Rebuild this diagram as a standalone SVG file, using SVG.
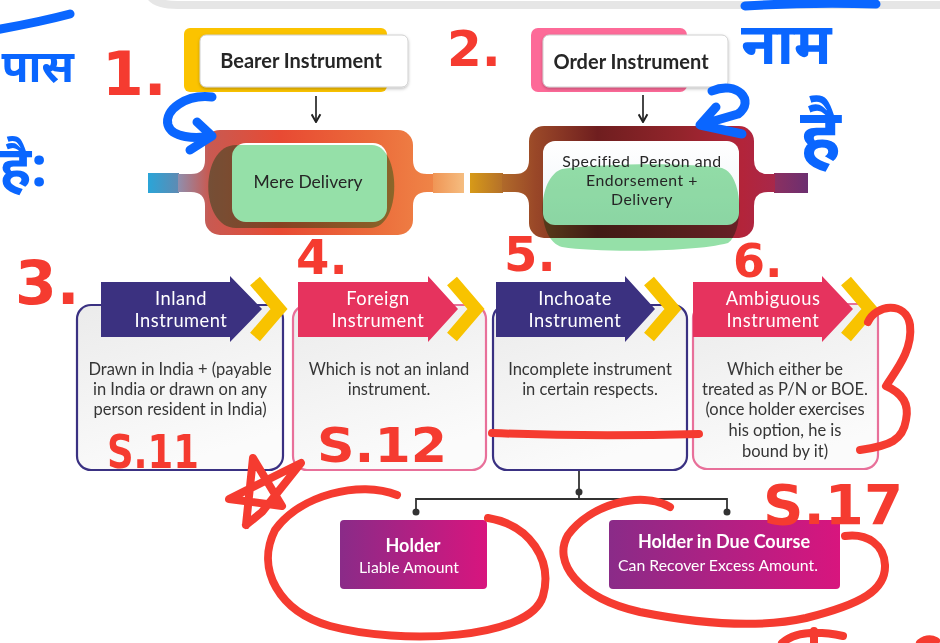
<svg xmlns="http://www.w3.org/2000/svg" width="940" height="643" viewBox="0 0 940 643">
<style>
.t{font-family:Lato,"Noto Sans","Liberation Sans",sans-serif;}
.hb{font-weight:700;font-size:20px;fill:#262626;text-anchor:middle;}
.pt{font-size:17.5px;fill:#262626;text-anchor:middle;}
.pt2{font-size:15.8px;letter-spacing:0.5px;fill:#262626;text-anchor:middle;}
.ht{font-size:18.3px;letter-spacing:0.5px;fill:#fff;text-anchor:middle;}
.bt{font-size:16.5px;fill:#363636;text-anchor:middle;}
.ob{font-weight:700;font-size:18px;fill:#fff;text-anchor:middle;}
.os{font-size:15.8px;fill:#fff;text-anchor:middle;}
.card{fill:url(#cardg);stroke-width:2.2;}
.navy{stroke:#3a3182;}
.pink{stroke:#e8709a;}
.hnavy{fill:#3b3180;}
.hpink{fill:#e6335e;}
.chev{fill:none;stroke:#f8c300;stroke-width:13;stroke-linejoin:miter;}
.hl{fill:#95e0a8;mix-blend-mode:multiply;}
.con{fill:none;stroke:#333;stroke-width:1.8;}
.red{fill:none;stroke:#f53b30;stroke-width:8;stroke-linecap:round;stroke-linejoin:round;}
.blue{fill:none;stroke:#0a66ff;stroke-width:9;stroke-linecap:round;stroke-linejoin:round;}
.rt{font-family:"DejaVu Sans","Liberation Sans",sans-serif;font-weight:700;fill:#f53b30;}
.bl{font-family:"Noto Sans","DejaVu Sans",sans-serif;font-weight:700;fill:#0a66ff;}
</style>
<defs>
<linearGradient id="cardg" x1="0" y1="0" x2="0.4" y2="1">
<stop offset="0" stop-color="#ebebeb"/><stop offset="1" stop-color="#fbfbfb"/>
</linearGradient>
<linearGradient id="p1" gradientUnits="userSpaceOnUse" x1="178" y1="0" x2="433" y2="0">
<stop offset="0" stop-color="#8f8fae"/><stop offset="0.12" stop-color="#c85a52"/><stop offset="0.4" stop-color="#e84a33"/><stop offset="0.75" stop-color="#eb6a3a"/><stop offset="1" stop-color="#ef8447"/>
</linearGradient>
<linearGradient id="p2" gradientUnits="userSpaceOnUse" x1="502" y1="0" x2="775" y2="0">
<stop offset="0" stop-color="#b06a2a"/><stop offset="0.12" stop-color="#9a4828"/><stop offset="0.35" stop-color="#6f1e1f"/><stop offset="0.65" stop-color="#92242b"/><stop offset="0.88" stop-color="#b3243a"/><stop offset="1" stop-color="#a8284a"/>
</linearGradient>
<linearGradient id="sb" x1="0" y1="0" x2="1" y2="0"><stop offset="0" stop-color="#2aa5d8"/><stop offset="1" stop-color="#5f8ab2"/></linearGradient>
<linearGradient id="so" x1="0" y1="0" x2="1" y2="0"><stop offset="0" stop-color="#f09555"/><stop offset="1" stop-color="#f5bd80"/></linearGradient>
<linearGradient id="sg" x1="0" y1="0" x2="1" y2="0"><stop offset="0" stop-color="#d79a18"/><stop offset="1" stop-color="#b4702a"/></linearGradient>
<linearGradient id="sp" x1="0" y1="0" x2="1" y2="0"><stop offset="0" stop-color="#8c3060"/><stop offset="1" stop-color="#6c2f70"/></linearGradient>
<linearGradient id="wb" x1="0" y1="0" x2="0" y2="1"><stop offset="0" stop-color="#ffffff"/><stop offset="1" stop-color="#eef3f8"/></linearGradient>
<linearGradient id="og" x1="0" y1="0" x2="1" y2="0"><stop offset="0" stop-color="#8a2b88"/><stop offset="1" stop-color="#d8157e"/></linearGradient>
<filter id="sh" x="-10%" y="-20%" width="120%" height="150%"><feDropShadow dx="0" dy="1.5" stdDeviation="1.5" flood-color="#000" flood-opacity="0.25"/></filter>
<marker id="ah" viewBox="0 0 10 10" refX="9" refY="5" markerWidth="11" markerHeight="11" markerUnits="userSpaceOnUse" orient="auto">
<path d="M2,1 L9,5 L2,9" fill="none" stroke="#222" stroke-width="1.8"/>
</marker>
</defs>
<rect width="940" height="643" fill="#fff"/>
<path d="M150,-4 Q156,5 178,5 H945" fill="none" stroke="#e6e6e6" stroke-width="8"/>

<g id="bearer">
<rect x="184" y="28" width="203" height="64" rx="6" fill="#fbc300"/>
<rect x="200" y="35" width="208" height="52" rx="6" fill="#fff" stroke="#d0d0d0" filter="url(#sh)"/>
<text class="t hb" x="301" y="68">Bearer Instrument</text>
</g>

<g id="order">
<rect x="531" y="28" width="156" height="64" rx="7" fill="#fd6a98"/>
<rect x="543" y="35" width="185" height="52" rx="6" fill="#fff" stroke="#d0d0d0" filter="url(#sh)"/>
<text class="t hb" x="631" y="69">Order Instrument</text>
</g>

<g id="connectors">
<path d="M316,96 V122" class="con" marker-end="url(#ah)"/>
<path d="M643,95 V122" class="con" marker-end="url(#ah)"/>
<path d="M579,470 V499 M416,512 V499 H727 V512" class="con"/>
<circle cx="579" cy="492" r="3.5" fill="#333"/>
<circle cx="416" cy="512" r="3.5" fill="#333"/>
<circle cx="727" cy="512" r="3.5" fill="#333"/>
</g>

<g id="pipe-bearer">
<rect x="148" y="173" width="31" height="20" fill="url(#sb)"/>
<rect x="433" y="173" width="31" height="20" fill="url(#so)"/>
<g fill="url(#p1)">
<rect x="178" y="174" width="255" height="18"/>
<path d="M191,174 Q205,174 205,160 V174 Z M191,192 Q205,192 205,206 V192 Z M427,174 Q413,174 413,160 V174 Z M427,192 Q413,192 413,206 V192 Z"/>
<rect x="205" y="130" width="208" height="105" rx="15"/>
</g>
<rect x="232" y="143" width="155" height="79" rx="14" fill="#fff"/>
<path class="hl" d="M236,145 H372 C401,145 403,228 370,228 H236 C199,228 199,145 236,145 Z"/>
<text class="t pt" x="308" y="188">Mere Delivery</text>
</g>

<g id="pipe-order">
<rect x="470" y="173" width="33" height="20" fill="url(#sg)"/>
<rect x="774" y="173" width="34" height="20" fill="url(#sp)"/>
<g fill="url(#p2)">
<rect x="502" y="174" width="273" height="18"/>
<path d="M515,174 Q529,174 529,160 V174 Z M515,192 Q529,192 529,206 V192 Z M768,174 Q754,174 754,160 V174 Z M768,192 Q754,192 754,206 V192 Z"/>
<rect x="529" y="126" width="225" height="112" rx="15"/>
</g>
<rect x="543" y="141" width="196" height="84" rx="12" fill="url(#wb)"/>
<path class="hl" d="M562,169 C610,163 690,163 722,168 C744,175 744,232 728,243 C695,252 600,253 562,247 C536,240 536,178 562,169 Z"/>
<text class="t pt2" x="642" y="167">Specified&#160; Person and</text>
<text class="t pt2" x="642" y="186">Endorsement +</text>
<text class="t pt2" x="642" y="205">Delivery</text>
</g>

<g id="card-inland">
<rect class="card navy" x="77" y="305" width="206" height="165" rx="14"/>
<path class="hnavy" d="M101,282 H230 V276 L262,309 L230,342 V337 H101 Z"/>
<polyline class="chev" points="255,281 279,309 255,337"/>
<text class="t ht" x="181" y="305">Inland</text>
<text class="t ht" x="181" y="327">Instrument</text>
<text class="t bt" x="180" y="375">Drawn in India + (payable</text>
<text class="t bt" x="180" y="395">in India or drawn on any</text>
<text class="t bt" x="180" y="415">person resident in India)</text>
</g>

<g id="card-foreign">
<rect class="card pink" x="293" y="305" width="193" height="165" rx="14"/>
<path class="hpink" d="M298,282 H428 V276 L458,309 L428,342 V337 H298 Z"/>
<polyline class="chev" points="452,281 476,309 452,337"/>
<text class="t ht" x="378" y="305">Foreign</text>
<text class="t ht" x="378" y="327">Instrument</text>
<text class="t bt" x="389" y="375">Which is not an inland</text>
<text class="t bt" x="389" y="395">instrument.</text>
</g>

<g id="card-inchoate">
<rect class="card navy" x="493" y="305" width="194" height="165" rx="14"/>
<path class="hnavy" d="M496,282 H625 V276 L655,309 L625,342 V337 H496 Z"/>
<polyline class="chev" points="649,281 673,309 649,337"/>
<text class="t ht" x="575" y="305">Inchoate</text>
<text class="t ht" x="575" y="327">Instrument</text>
<text class="t bt" x="590" y="375">Incomplete instrument</text>
<text class="t bt" x="590" y="395">in certain respects.</text>
</g>

<g id="card-ambiguous">
<rect class="card pink" x="693" y="304" width="185" height="165" rx="14"/>
<path class="hpink" d="M693,282 H822 V276 L853,309 L822,342 V337 H693 Z"/>
<polyline class="chev" points="846,281 870,309 846,337"/>
<text class="t ht" x="773" y="305">Ambiguous</text>
<text class="t ht" x="773" y="327">Instrument</text>
<text class="t bt" x="785" y="375">Which either be</text>
<text class="t bt" x="785" y="395">treated as P/N or BOE.</text>
<text class="t bt" x="785" y="415">(once holder exercises</text>
<text class="t bt" x="785" y="436">his option, he is</text>
<text class="t bt" x="785" y="457">bound by it)</text>
</g>

<g id="holder">
<rect x="340" y="520" width="147" height="69" rx="4" fill="url(#og)"/>
<text class="t ob" x="413" y="552">Holder</text>
<text class="t os" x="409" y="573">Liable Amount</text>
</g>

<g id="hdc">
<rect x="609" y="520" width="231" height="69" rx="4" fill="url(#og)"/>
<text class="t ob" x="724" y="548">Holder in Due Course</text>
<text class="t os" x="718" y="571">Can Recover Excess Amount.</text>
</g>

<g id="annotations">
<text class="rt" x="102" y="95" font-size="60">1.</text>
<text class="rt" x="447" y="66" font-size="50">2.</text>
<text class="rt" x="15" y="304" font-size="60">3.</text>
<text class="rt" x="296" y="274" font-size="48">4.</text>
<text class="rt" x="504" y="271" font-size="48">5.</text>
<text class="rt" x="733" y="277" font-size="46">6.</text>
<text class="rt" x="107" y="468" font-size="46" textLength="92" lengthAdjust="spacingAndGlyphs">S.11</text>
<text class="rt" x="317" y="462" font-size="48" textLength="130" lengthAdjust="spacingAndGlyphs">S.12</text>
<text class="rt" x="763" y="524" font-size="56" textLength="140" lengthAdjust="spacingAndGlyphs">S.17</text>
<path class="red" d="M492,433 Q590,437 699,434"/>
<path class="red" d="M868,322 C875,305 906,300 910,325 C913,350 896,370 886,386 C900,392 910,402 906,420 C903,440 890,446 860,450"/>
<path class="red" d="M246,525 L253,458 L282,506 L229,499 L301,463 L262,512 L246,525" stroke-width="10"/>
<path class="red" d="M397,495 C360,480 300,495 275,530 C255,570 280,612 330,626 C400,645 530,640 543,596 C553,560 530,525 488,518"/>
<path class="red" d="M670,507 C640,490 590,505 568,535 C552,562 578,598 640,612 C700,624 760,628 806,618 C862,604 886,590 885,565 C884,545 868,533 845,536"/>
<path class="red" d="M782,643 C795,632 815,630 843,636 M814,643 V631 M920,643 Q928,637 936,641"/>
<path class="blue" d="M212,97 C186,94 164,110 168,125 C172,138 195,139 212,136 M197,122 L212,136 L190,150"/>
<path class="blue" d="M712,91 C737,80 756,101 738,114 L700,125 L742,134 M700,125 L716,107"/>
<path class="blue" d="M-5,30 Q40,22 70,14 M745,6 Q810,2 876,4" stroke-width="8"/>
<text class="bl" x="74" y="82" font-size="44" text-anchor="end">पास</text>
<text class="bl" x="47" y="186" font-size="56" text-anchor="end">है:</text>
<text class="bl" x="741" y="64" font-size="58">नाम</text>
<text class="bl" x="800" y="160" font-size="72">है</text>
</g>
</svg>
